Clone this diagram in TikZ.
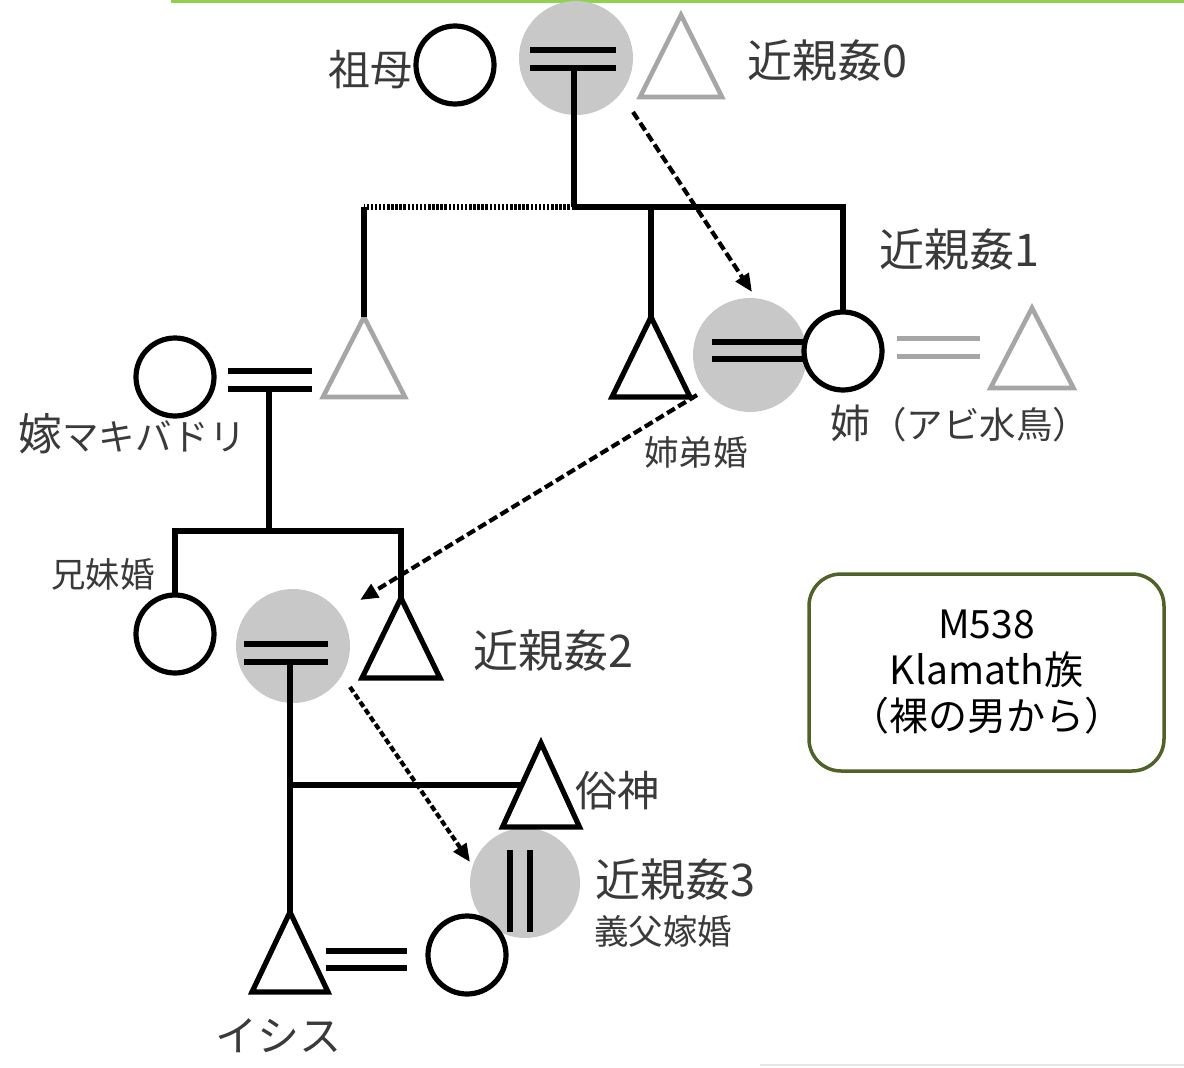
\documentclass[tikz,border=0pt]{standalone}
\usepackage{fontspec}
\setmainfont{Noto Sans CJK JP}
\usetikzlibrary{calc,arrows.meta}
\definecolor{diskgray}{HTML}{C8C8C8}
\definecolor{trigray}{HTML}{A6A6A6}
\definecolor{txtgray}{HTML}{3A3A3A}
\definecolor{boxgreen}{HTML}{4F6228}
\definecolor{topgreen}{HTML}{92D050}
\newcommand{\szBig}{\fontsize{45}{52}\selectfont}
\newcommand{\szMid}{\fontsize{42}{50}\selectfont}
\newcommand{\szSm}{\fontsize{34.5}{40}\selectfont}
\newcommand{\szKana}{\fontsize{36.5}{42}\selectfont}
\newcommand{\szBox}{\fontsize{39}{46}\selectfont}
\begin{document}
\begin{tikzpicture}[x=1pt,y=-1pt,
  kin/.style={line width=5.2pt, black},
  bar/.style={line width=5.2pt, black},
  graybar/.style={line width=5pt, trigray},
  dotline/.style={line width=5.2pt, black, dash pattern=on 2.5pt off 1.6pt},
  fem/.style={circle, draw, line width=5.2pt, minimum size=78pt, inner sep=0pt, outer sep=0pt},
  gdisk/.style={circle, fill=diskgray, minimum size=114pt, inner sep=0pt, outer sep=0pt},
  tribox/.style={minimum width=78pt, minimum height=80pt, inner sep=0pt, outer sep=0pt},
  blacktri/.style={line width=5.2pt, black, line join=miter},
  graytri/.style={line width=4.6pt, trigray, line join=miter},
  incest/.style={line width=4.2pt, black, dash pattern=on 9pt off 4pt, -{Triangle[length=18pt,width=15pt]}},
  lbl/.style={inner sep=0pt, outer sep=0pt, text=txtgray},
  infobox/.style={draw=boxgreen, line width=3.5pt, rounded corners=32pt, minimum width=355pt, minimum height=197pt, align=center, inner sep=0pt, text=black}
]
\useasboundingbox (0,0) rectangle (1184,1068);
\fill[white] (0,0) rectangle (1184,1068);
% top green rule and faint bottom rule
\draw[topgreen, line width=3.5pt] (171,1.5) -- (1184,1.5);
\draw[black!10, line width=1.5pt] (760,1065) -- (1184,1065);

% grey disks (incest marks)
\node[gdisk] (g0) at (576,58) {};
\node[gdisk] (g1) at (750,355) {};
\node[gdisk] (g2) at (293,646) {};
\node[gdisk, minimum size=110pt] (g3) at (525,883) {};

% persons
\node[fem] (sobo) at (455,65) {};
\node[tribox, minimum width=82pt, minimum height=82pt] (sofu) at (681,56) {};
\node[tribox, minimum width=82pt] (yomehus) at (364,357) {};
\node[fem] (yome) at (175,377) {};
\node[tribox] (otouto) at (651,357) {};
\node[fem] (ane) at (843,351) {};
\node[tribox, minimum width=83pt] (abi) at (1032,348) {};
\node[fem] (imo) at (175,634) {};
\node[tribox] (ani) at (401,638) {};
\node[tribox, minimum width=77pt, minimum height=84pt] (zoku) at (541,785) {};
\node[tribox, minimum width=76pt] (isis) at (290,952) {};
\node[fem] (wife) at (467,955) {};

% triangles
\foreach \t in {otouto,ani,zoku,isis}
  \draw[blacktri] (\t.north) -- (\t.south east) -- (\t.south west) -- cycle;
\foreach \t in {sofu,yomehus,abi}
  \draw[graytri] (\t.north) -- (\t.south east) -- (\t.south west) -- cycle;

% generation 0
\draw[bar] ($(g0.center)+(-46,-8)$) -- ($(g0.center)+(40,-8)$);
\draw[bar] ($(g0.center)+(-46,10)$) -- ($(g0.center)+(40,10)$);
\coordinate (sib0) at ($(g0.center)+(-2,149)$);
\draw[kin] ($(g0.center)+(-2,10)$) -- (sib0);
\draw[dotline] (sib0) -- (yomehus.north |- sib0);
\draw[kin] (yomehus.north |- sib0) -- (yomehus.north);
\draw[kin] (sib0) -| (ane.north);
\draw[kin] (otouto.north |- sib0) -- (otouto.north);

% generation 1
\draw[bar] ($(yome.center)+(53,-6)$) -- ($(yome.center)+(137,-6)$);
\draw[bar] ($(yome.center)+(53,12)$) -- ($(yome.center)+(137,12)$);
\coordinate (sib1) at ($(yome.center)+(94,154)$);
\draw[kin] ($(yome.center)+(94,12)$) -- (sib1);
\draw[bar] ($(g1.center)+(-38,-13)$) -- (ane.west |- {$(g1.center)+(0,-13)$});
\draw[bar] ($(g1.center)+(-38,4)$) -- (ane.west |- {$(g1.center)+(0,4)$});
\draw[graybar] ($(ane.center)+(54,-13)$) -- ($(ane.center)+(137,-13)$);
\draw[graybar] ($(ane.center)+(54,5)$) -- ($(ane.center)+(137,5)$);

% generation 2
\draw[kin] (imo.north) |- (ani.north |- sib1) -- (ani.north);
\draw[bar] ($(g2.center)+(-49,-2)$) -- ($(g2.center)+(35,-2)$);
\draw[bar] ($(g2.center)+(-49,16)$) -- ($(g2.center)+(35,16)$);
\draw[kin] ($(g2.center)+(-3,16)$) -- (isis.north);
\coordinate (zokuj) at ($(g2.center)+(-3,139)$);
\draw[kin] (zokuj) -- ($(zoku.center)+(-20,0)$);

% generation 3
\draw[bar] ($(g3.center)+(-15,-33)$) -- ($(g3.center)+(-15,49)$);
\draw[bar] ($(g3.center)+(5,-33)$) -- ($(g3.center)+(5,49)$);
\draw[bar] ($(isis.center)+(36,-1)$) -- ($(wife.west)+(-21,-4)$);
\draw[bar] ($(isis.center)+(36,16)$) -- ($(wife.west)+(-21,13)$);

% incest arrows
\draw[incest] ($(g0.center)+(57,54)$) -- ($(g1.center)+(2,-63)$);
\draw[incest] ($(g1.center)+(-53,40)$) -- ($(g2.center)+(67,-46)$);
\draw[incest, dash pattern=on 6pt off 3pt] ($(g2.center)+(57,41)$) -- ($(g3.center)+(-55,-21)$);

% labels
\node[lbl, font=\szMid] (lsobo) at (370,70) {祖母};
\node[lbl, font=\szBig] (l0) at (827,60) {近親姦0};
\node[lbl, font=\szBig] (l1) at (959,249) {近親姦1};
\node[lbl, font=\szBig] (l2) at (553,650) {近親姦2};
\node[lbl, font=\szBig] (l3) at (675,879) {近親姦3};
\node[lbl, anchor=base west] (lyome) at (18,450) {\fontsize{44}{50}\selectfont 嫁\szKana マキバドリ};
\node[lbl, anchor=base west] (lane) at (830,438) {\fontsize{40}{48}\selectfont 姉\szKana （アビ水鳥）};
\node[lbl, font=\szSm] (lktk) at (696,452) {姉弟婚};
\node[lbl, font=\szSm] (lkmk) at (103,574) {兄妹婚};
\node[lbl, font=\szMid] (lzoku) at (617,791) {俗神};
\node[lbl, font=\szSm] (lgfy) at (663,931) {義父嫁婚};
\node[lbl, font=\szMid] (lisis) at (278,1036) {イシス};

% info box
\node[infobox, font=\szBox] (info) at (986.5,672.5) {M538\\Klamath族\\（裸の男から）};
\end{tikzpicture}
\end{document}
